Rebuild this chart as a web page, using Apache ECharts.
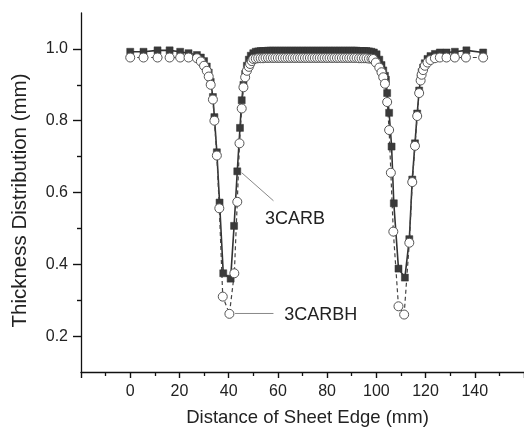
<!DOCTYPE html>
<html>
<head>
<meta charset="utf-8">
<script src="https://cdn.jsdelivr.net/npm/echarts@6/dist/echarts.min.js"></script>
<style>html,body{margin:0;padding:0;background:#fff;}#c{width:524px;height:427px;}</style>
</head>
<body>
<div id="c"></div>
<script>
// ---- data ----
const carbX = [0,5.4,11.1,16,20.3,23.7,27.1,28.7,30,31.1,31.9,32.7,33.6,34.2,35.2,36.3,37.8,40.8,42.2,43.5,44.6,45.3,46,46.7,47.4,48.2,49,50,
  51,52,53,54,55,56,57,58,59,60,61,62,63,64,65,66,67,68,69,70,71,72,73,74,75,76,77,78,79,80,81,82,83,84,85,86,87,88,89,90,91,92,93,94,95,96,97,98,99,
  100.1,101.2,102.1,102.8,103.5,103.9,104.4,105.2,106.2,107.1,109,111.6,113.4,114.6,115.7,116.6,117.4,118,118.4,119,119.7,120.8,122,123.8,125.8,128.5,131.9,136.6,143.4];
const carbY = [0.992,0.992,0.996,0.996,0.992,0.988,0.983,0.976,0.966,0.951,0.934,0.908,0.866,0.81,0.712,0.572,0.375,0.36,0.507,0.659,0.78,0.857,0.9,0.93,0.953,0.97,0.981,0.988,
  0.992,0.993,0.994,0.994,0.994,0.995,0.995,0.995,0.995,0.995,0.995,0.995,0.995,0.995,0.995,0.995,0.995,0.995,0.995,0.995,0.995,0.995,0.995,0.995,0.995,0.995,0.995,0.995,0.995,0.995,0.995,0.995,0.995,0.995,0.995,0.995,0.995,0.995,0.995,0.995,0.995,0.995,0.994,0.994,0.994,0.994,0.993,0.992,0.99,
  0.985,0.97,0.955,0.94,0.925,0.914,0.877,0.822,0.728,0.57,0.388,0.363,0.47,0.636,0.737,0.82,0.884,0.918,0.935,0.948,0.96,0.972,0.98,0.986,0.99,0.99,0.992,0.996,0.99];

const carbhX = [0,5.4,11.1,16,20.3,23.7,27.1,28.7,30,31.1,31.9,32.7,33.6,34.2,35.2,36.2,37.6,40.3,42.3,43.5,44.4,45.3,46,46.7,47.4,48.2,48.7,49.4,50,
  51,52,53,54,55,56,57,58,59,60,61,62,63,64,65,66,67,68,69,70,71,72,73,74,75,76,77,78,79,80,81,82,83,84,85,86,87,88,89,90,91,92,93,94,95,96,97,98,
  98.7,99.8,101.2,102.1,102.8,103.5,104.4,105.2,105.9,106.9,109,111.3,113.4,114.6,115.7,116.6,117.4,118,118.4,119,119.7,120.8,122,123.8,125.8,128.5,131.9,136.4,143.4];
const carbhY = [0.976,0.976,0.976,0.976,0.976,0.976,0.974,0.965,0.953,0.939,0.923,0.9,0.859,0.8,0.703,0.556,0.31,0.262,0.375,0.574,0.737,0.834,0.893,0.921,0.939,0.95,0.958,0.966,0.972,
  0.973,0.974,0.974,0.974,0.975,0.975,0.975,0.975,0.975,0.975,0.975,0.975,0.975,0.975,0.975,0.975,0.975,0.975,0.975,0.975,0.975,0.975,0.975,0.975,0.975,0.975,0.975,0.975,0.975,0.975,0.975,0.975,0.975,0.975,0.975,0.975,0.975,0.975,0.975,0.975,0.975,0.975,0.974,0.974,0.974,0.974,0.973,0.973,
  0.972,0.962,0.948,0.935,0.921,0.903,0.852,0.774,0.655,0.491,0.283,0.26,0.46,0.629,0.73,0.813,0.877,0.912,0.928,0.941,0.953,0.962,0.969,0.974,0.976,0.976,0.976,0.976,0.976];

const xMajorLabels = [0,20,40,60,80,100,120,140];
const yMajorTicks = [0.2,0.4,0.6,0.8,1.0];
const yMinorTicks = [0.3,0.5,0.7,0.9];
const annotations = [
  {text:'3CARB',  from:[45.3,0.655], to:[58.2,0.577], textAt:[54.8,0.526]},
  {text:'3CARBH', from:[42.6,0.263], to:[58.2,0.263], textAt:[62.6,0.259]}
];

const FONT = 'Liberation Sans, Arial, sans-serif';
const zip = (xs, ys) => xs.map((x,i)=>[x, ys[i]]);

const tickAxis = (values, len) => ({
  type:'value', min:0.1, max:1.1, position:'left',
  axisLine:{show:false, onZero:false},
  axisTick:{show:true, length:len, customValues:values, lineStyle:{color:'#111', width:1.4}},
  axisLabel:{show:false, customValues:values},
  splitLine:{show:false}
});

const chart = echarts.init(document.getElementById('c'), null, {renderer:'canvas'});
chart.setOption({
  animation:false,
  backgroundColor:'#fff',
  grid:{left:81, right:0, top:13, bottom:55, containLabel:false, outerBoundsMode:'none'},
  xAxis:{
    type:'value', min:-20, max:160, interval:20,
    name:'Distance of Sheet Edge (mm)', nameLocation:'middle', nameGap:36,
    nameTextStyle:{fontFamily:FONT, fontSize:18.5, color:'#222', padding:[0,0,0,10]},
    axisLine:{show:true, onZero:false, lineStyle:{color:'#111', width:1.3}},
    axisTick:{show:true, length:6, lineStyle:{color:'#111', width:1.4}},
    minorTick:{show:true, splitNumber:2, length:4, lineStyle:{color:'#111', width:1.3}},
    axisLabel:{fontFamily:FONT, fontSize:16, color:'#222', margin:12,
      formatter:v => xMajorLabels.indexOf(v) >= 0 ? String(v) : ''},
    splitLine:{show:false}
  },
  yAxis:[{
    type:'value', min:0.1, max:1.1,
    name:'Thickness Distribution (mm)', nameLocation:'middle', nameGap:50, nameRotate:90,
    nameTextStyle:{fontFamily:FONT, fontSize:20.5, color:'#222', padding:[0,16,0,0]},
    axisLine:{show:true, onZero:false, lineStyle:{color:'#111', width:1.3}},
    axisTick:{show:false},
    axisLabel:{fontFamily:FONT, fontSize:16, color:'#222', margin:13, customValues:yMajorTicks,
      formatter:v => v.toFixed(1)},
    splitLine:{show:false}
  },
  tickAxis(yMinorTicks, 4),
  tickAxis(yMajorTicks, 8)],
  series:[{
    name:'3CARB', type:'line', data:zip(carbX, carbY),
    symbol:'rect', symbolSize:7, showAllSymbol:true,
    lineStyle:{color:'#333', width:1.6},
    itemStyle:{color:'#3a3a3a', borderColor:'#333', borderWidth:0.5}
  },{
    name:'3CARBH', type:'line', data:zip(carbhX, carbhY),
    symbol:'circle', symbolSize:9, showAllSymbol:true,
    lineStyle:{color:'#444', width:1.2, type:[4,3]},
    itemStyle:{color:'#fff', borderColor:'#555', borderWidth:1}
  }]
});

const graphics = [];
annotations.forEach(a => {
  const p1 = chart.convertToPixel({gridIndex:0}, a.from);
  const p2 = chart.convertToPixel({gridIndex:0}, a.to);
  const pt = chart.convertToPixel({gridIndex:0}, a.textAt);
  graphics.push({type:'line', shape:{x1:p1[0], y1:p1[1], x2:p2[0], y2:p2[1]},
    style:{stroke:'#888', lineWidth:1}, z:10});
  graphics.push({type:'text', x:pt[0], y:pt[1],
    style:{text:a.text, font:'18px ' + FONT, fill:'#222', align:'left', verticalAlign:'middle'}, z:10});
});
chart.setOption({graphic:graphics});
</script>
</body>
</html>
